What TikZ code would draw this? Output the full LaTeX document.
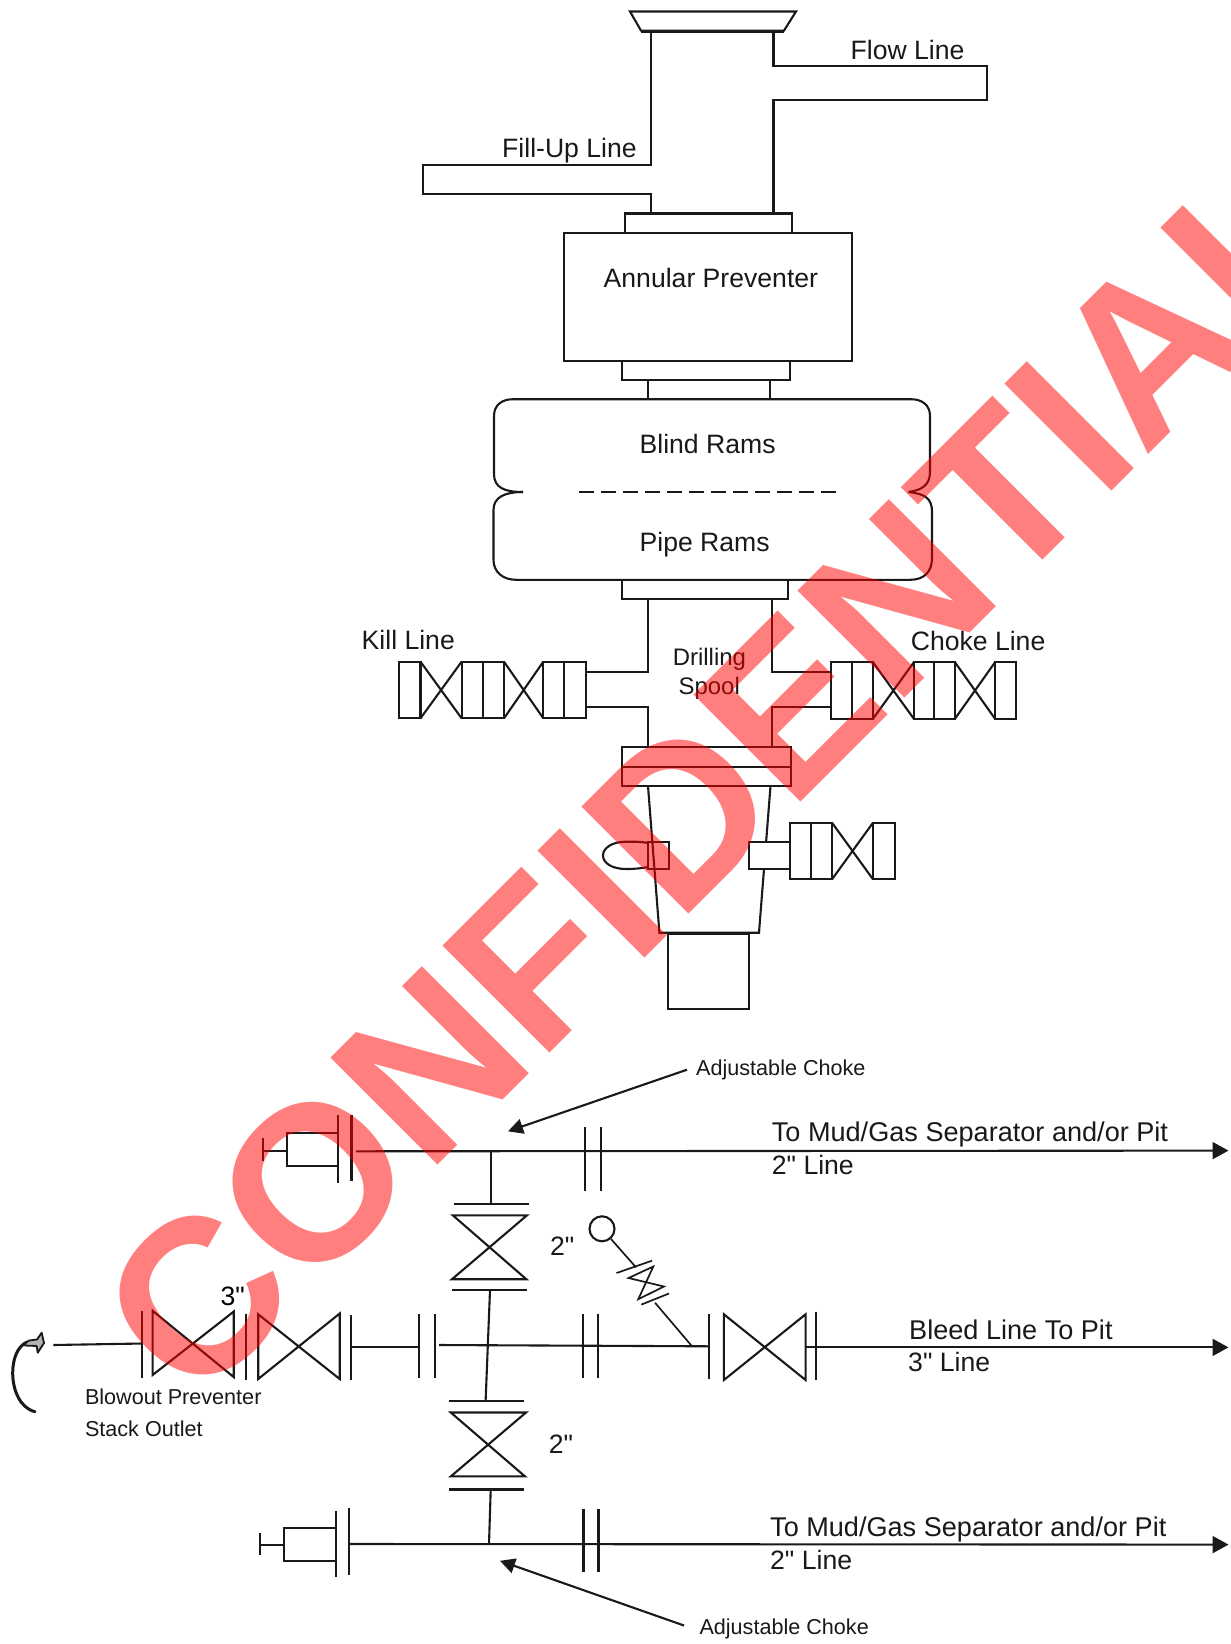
\documentclass[tikz,border=0pt]{standalone}
\usepackage{fontspec}
\newfontfamily\plainf{Liberation Sans}
\usetikzlibrary{arrows.meta}
\tikzset{
  ln/.style={draw=black!90,line width=2.1pt,line join=miter},
  whitebox/.style={ln,fill=white},
  lbl/.style={inner sep=0pt,anchor=base west,xshift=-1pt,text=black!90,font=\plainf\fontsize{26.6}{30}\selectfont},
  lblx/.style={lbl,font=\plainf\fontsize{27.1}{30}\selectfont},
  lblm/.style={lbl,font=\plainf\fontsize{23.9}{28}\selectfont},
  lbls/.style={lbl,font=\plainf\fontsize{21.6}{26}\selectfont},
  tip/.style={-{Triangle[length=16pt,width=17pt]}},
  leader/.style={-{Triangle[length=15pt,width=15pt]}},
  stamp/.style={inner sep=0pt,anchor=base west,rotate=45,text=red,text opacity=.5,font=\plainf\fontsize{220}{230}\selectfont\bfseries}
}
\begin{document}
\begin{tikzpicture}[x=1pt,y=-1pt]
\useasboundingbox (0,0) rectangle (1231,1644);
\clip (0,0) rectangle (1231,1644);
\fill[white] (0,0) rectangle (1231,1644);
% ---- funnel and bell nipple
\draw[ln] (630,11.5) -- (796,11.5) -- (784,30.6) -- (641,30.6) -- cycle;
\draw[ln,line width=3pt] (641,31.5) -- (784,31.5);
\draw[ln] (650.6,31.5) -- (650.6,165.3) -- (423,165.3) -- (423,194.4) -- (650.6,194.4) -- (650.6,213.5);
\draw[ln] (773.5,31.5) -- (773.5,65.8) -- (987,65.8) -- (987,99.9) -- (773.5,99.9) -- (773.5,213.5);
% ---- annular
\draw[ln] (625,232.7) -- (625,213.5) -- (792,213.5) -- (792,232.7);
\draw[ln] (563.7,232.7) rectangle (852,360.9);
\draw[ln] (622.4,360.9) -- (622.4,380.4) -- (790,380.4) -- (790,360.9);
\draw[ln] (647.8,380.4) -- (647.8,399.2) (770,380.4) -- (770,399.2);
% ---- rams
\draw[ln] (523,492) .. controls (505,492) and (494,488) .. (494,474) -- (494,416)
  .. controls (494,405) and (502,399.2) .. (513,399.2) -- (911,399.2)
  .. controls (922,399.2) and (930,405) .. (930,416) -- (930,472)
  .. controls (930,485) and (922,490) .. (908.6,492);
\draw[ln] (523,492) .. controls (505,492) and (493.5,497) .. (493.5,510) -- (493.5,560)
  .. controls (493.5,572) and (503,579.8) .. (516,579.8) -- (910,579.8)
  .. controls (924,579.8) and (932,572) .. (932,558) -- (932,512)
  .. controls (932,498) and (925,494) .. (908.6,492);
\draw[ln,dash pattern=on 15pt off 7pt] (579,492) -- (841,492);
\draw[ln] (621.6,579.8) -- (621.6,599) -- (788,599) -- (788,579.8);
% ---- drilling spool
\draw[ln] (648,599) -- (648,671.7) -- (585.7,671.7);
\draw[ln] (585.7,706.7) -- (648,706.7) -- (648,746.7);
\draw[ln] (772,599) -- (772,671.7) -- (830.8,671.7);
\draw[ln] (830.8,707.3) -- (772,707.3) -- (772,746.7);
% kill line valves
\draw[ln] (399,661.7) rectangle (420.5,718.3);
\draw[ln] (420.5,661.7) -- (461.6,718.3) (461.6,661.7) -- (420.5,718.3);
\draw[ln] (461.6,661.7) rectangle (482.6,718.3) (482.6,661.7) rectangle (504,718.3);
\draw[ln] (504,661.7) -- (543.3,718.3) (543.3,661.7) -- (504,718.3);
\draw[ln] (543.3,661.7) rectangle (564.3,718.3) (564.3,661.7) rectangle (585.7,718.3);
% choke line valves
\draw[ln] (830.8,662.3) rectangle (852,718.7) (852,662.3) rectangle (873,718.7);
\draw[ln] (873,662.3) -- (913.8,718.7) (913.8,662.3) -- (873,718.7);
\draw[ln] (913.8,662.3) rectangle (934,718.7) (934,662.3) rectangle (955,718.7);
\draw[ln] (955,662.3) -- (995,718.7) (995,662.3) -- (955,718.7);
\draw[ln] (995,662.3) rectangle (1015.6,718.7);
% flange pair
\draw[ln] (622.3,746.7) rectangle (790.6,766.7) (622.3,766.7) rectangle (790.6,786);
% lower taper
\draw[ln] (648,786) -- (659.4,932.7) -- (759,932.7) -- (770.5,786);
\draw[ln,line width=2.6pt] (668.3,934) -- (748.7,934);
\draw[ln] (668.3,934) -- (668.3,1008.7) -- (748.7,1008.7) -- (748.7,934);
\draw[ln] (648,843) .. controls (640,841.5) and (634,841.7) .. (626,841.7)
  .. controls (612,841.7) and (603,848) .. (603,855.5)
  .. controls (603,863) and (612,869) .. (626,869)
  .. controls (634,869) and (640,868.5) .. (648,867);
\draw[whitebox,fill=none] (647.8,841.7) rectangle (668.8,869);
\draw[whitebox] (748.7,842.3) rectangle (789.7,869);
\draw[ln] (789.7,822.7) rectangle (810.7,879.3) (810.7,822.7) rectangle (832,879.3);
\draw[ln] (832,822.7) -- (873,879.3) (873,822.7) -- (832,879.3);
\draw[ln] (873,822.7) rectangle (894.6,879.3);
% ---- manifold: top run
\draw[ln] (262.6,1138.2) -- (262.6,1160.6);
\draw[ln] (262.6,1150.6) -- (286.7,1150.6);
\draw[ln] (286.7,1133.2) rectangle (338,1166.3);
\draw[ln] (338,1115.1) -- (338,1182.5) (351.5,1115.1) -- (351.5,1180.6);
\coordinate (topend) at (1228.5,1150.6);
\draw[ln,tip] (356,1151.3) -- (topend);
\draw[ln] (585.2,1127) -- (585.2,1191) (600.7,1127) -- (600.7,1191);
% upper vertical valve
\draw[ln] (490.7,1151.3) -- (490.7,1203.7);
\draw[ln] (454,1203.7) -- (529,1203.7);
\draw[ln] (452.8,1215.3) -- (527,1215.3) -- (452,1279.2) -- (526.3,1279.2) -- cycle;
\draw[ln] (452,1290.4) -- (527,1290.4);
\draw[ln] (490,1290.4) -- (485.6,1401.3);
% lower vertical valve
\draw[ln] (448.8,1401.3) -- (524,1401.3);
\draw[ln] (450.8,1412.5) -- (526,1412.5) -- (450.8,1476.4) -- (525,1476.4) -- cycle;
\draw[ln] (448.8,1489.5) -- (524,1489.5);
\draw[ln] (490.7,1489.5) -- (489,1544);
% ---- manifold: middle run
\draw[ln] (53.4,1345) -- (142.3,1343.5);
\draw[ln] (142.3,1310.8) -- (142.3,1377.8);
\draw[ln] (152.6,1310.8) -- (233.7,1377) -- (233.7,1311.6) -- (152.6,1375) -- cycle;
\draw[ln] (246.3,1314.3) -- (246.3,1379.8);
\draw[ln] (258.2,1314.3) -- (339.7,1379) -- (339.7,1313.5) -- (258.2,1379) -- cycle;
\draw[ln] (350.7,1315.4) -- (350.7,1379.8);
\draw[ln] (350.7,1346.6) -- (419,1346.6);
\draw[ln] (419,1314.3) -- (419,1378.2) (435,1313.5) -- (435,1378.2);
\draw[ln] (439,1345) -- (709.3,1346.3);
\draw[ln] (582.8,1314.3) -- (582.8,1378) (598,1314.3) -- (598,1378);
\draw[ln] (709.3,1313.5) -- (709.3,1379);
\draw[ln] (723.9,1314.3) -- (805.6,1380) -- (805.6,1314.3) -- (723.9,1380) -- cycle;
\draw[ln] (815.9,1311.6) -- (815.9,1379.8);
\coordinate (midend) at (1228.5,1347.4);
\draw[ln,tip] (805.6,1347.4) -- (midend);
% bleed valve
\node[circle,ln,fill=none,minimum size=25pt,inner sep=0pt] (gauge) at (602,1228.8) {};
\draw[ln,line width=1.7pt] (gauge) -- (636,1267.3);
\draw[ln,line width=1.7pt] (616.5,1273) -- (652,1260.7);
\draw[ln,line width=1.7pt] (628.5,1278) -- (653.3,1266.5) -- (638.3,1299.2) -- (664,1286.5) -- cycle;
\draw[ln,line width=1.7pt] (641.3,1304.6) -- (669,1293.5);
\draw[ln,line width=1.7pt] (655,1302.7) -- (691.8,1346);
% ---- manifold: bottom run
\draw[ln] (259.8,1533) -- (259.8,1555);
\draw[ln] (259.8,1545) -- (284.3,1545);
\draw[ln] (284.3,1527.7) rectangle (336,1561.2);
\draw[ln] (336,1510.7) -- (336,1576.6) (349,1508) -- (349,1574.7);
\coordinate (botend) at (1228.5,1544.6);
\draw[ln,tip] (350,1544) -- (botend);
\draw[ln] (583.5,1508.8) -- (583.5,1571.6) (598.5,1508.8) -- (598.5,1571.6);
% stack outlet curved arrow
\draw[ln,line width=3pt,line cap=round] (35,1411.7) .. controls (20,1408) and (12.7,1390) .. (12.7,1373)
  .. controls (12.7,1358) and (18,1346) .. (27,1342);
\draw[ln,line width=1.8pt,line join=round,fill=black!30] (25,1343.5) -- (29,1340.5) -- (37,1339.5) -- (41.7,1332.7) -- (44,1343) -- (37.7,1352.7) -- (36.7,1346) -- (25,1345.5) -- cycle;
% ---- labels
\node[lbl] (flow) at (851.4,59.3) {Flow Line};
\node[lbl] (fill) at (503,157.7) {Fill-Up Line};
\node[lbl] (ann) at (604.5,287.8) {Annular Preventer};
\node[lbl] (blind) at (640.4,453.5) {Blind Rams};
\node[lbl] (pipe) at (640.4,551) {Pipe Rams};
\node[lbl] (kill) at (362.5,649.3) {Kill Line};
\node[lbl] (choke) at (911.6,650) {Choke Line};
\node[lblm] (drill) at (673.7,665) {Drilling};
\node[lblm] (spool) at (679.5,694.3) {Spool};
\node[lbls] (adjT) at (697,1075.8) {Adjustable Choke};
\node[lbls] (adjB) at (700.3,1634.4) {Adjustable Choke};
\node[lblx] (mudT) at (772.7,1141.3) {To Mud/Gas Separator and/or Pit};
\node[lbl] (lnT) at (772.7,1174) {2" Line};
\node[lblx] (bleed) at (910,1339.3) {Bleed Line To Pit};
\node[lbl] (lnM) at (909,1371.3) {3" Line};
\node[lblx] (mudB) at (771,1536) {To Mud/Gas Separator and/or Pit};
\node[lbl] (lnB) at (771,1569) {2" Line};
\node[lbl] (szA) at (550.8,1255.7) {2"};
\node[lbl] (szB) at (549.6,1453) {2"};
\node[lbl,text=black] (szC) at (221.4,1305.8) {3"};
\node[lbls] (bop) at (85.8,1404) {Blowout Preventer};
\node[lbls] (stack) at (85.8,1436.8) {Stack Outlet};
% leaders
\coordinate (adjTs) at (687,1069.7);
\coordinate (adjTe) at (508,1131.3);
\coordinate (adjBs) at (684,1625.5);
\coordinate (adjBe) at (500,1560.8);
\draw[ln,leader] (adjTs) -- (adjTe);
\draw[ln,leader] (adjBs) -- (adjBe);
% watermark
\node[stamp] (mark) at (194,1409) {CONFIDENTIAL};
\end{tikzpicture}
\end{document}
